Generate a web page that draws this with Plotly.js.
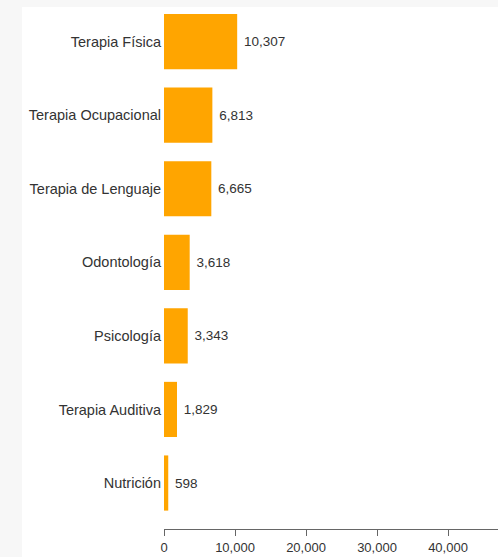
<!DOCTYPE html>
<html>
<head>
<meta charset="utf-8">
<script src="https://cdn.plot.ly/plotly-3.0.1.min.js"></script>
<style>
  html, body { margin: 0; padding: 0; background: #f7f7f7; overflow: hidden; width: 498px; height: 557px; }
  #chart { position: absolute; left: 22px; top: 7px; width: 476px; height: 550px; background: #fff; }
</style>
</head>
<body>
<div id="chart"></div>
<script>
const categories = ["Nutrición", "Terapia Auditiva", "Psicología", "Odontología", "Terapia de Lenguaje", "Terapia Ocupacional", "Terapia Física"];
const values = [598, 1829, 3343, 3618, 6665, 6813, 10307];
const tickValues = [0, 10000, 20000, 30000, 40000];
const tickLabels = ["0", "10,000", "20,000", "30,000", "40,000"];

const trace = {
  type: "bar",
  orientation: "h",
  x: values,
  y: categories,
  marker: { color: "#FFA500" },
  text: values.map(v => "\u00a0" + v.toLocaleString("en-US")),
  textposition: "outside",
  cliponaxis: false,
  textfont: { family: "Liberation Sans, Arial, sans-serif", size: 13.5, color: "#333" },
  hoverinfo: "none"
};

const layout = {
  width: 476,
  height: 550,
  margin: { l: 142, r: 0, t: 0, b: 28 },
  paper_bgcolor: "#ffffff",
  plot_bgcolor: "#ffffff",
  font: { family: "Liberation Sans, Arial, sans-serif", size: 13, color: "#333" },
  bargap: 0.25,
  showlegend: false,
  xaxis: {
    range: [0, 47040],
    tickvals: tickValues,
    ticktext: tickLabels,
    showgrid: false,
    zeroline: false,
    showline: true,
    linecolor: "#666",
    linewidth: 1,
    ticks: "outside",
    ticklen: 6,
    tickcolor: "#666",
    tickfont: { size: 13, color: "#333" },
    fixedrange: true
  },
  yaxis: {
    type: "category",
    categoryorder: "array",
    categoryarray: categories,
    range: [-0.625, 6.47],
    showgrid: false,
    zeroline: false,
    showline: false,
    ticks: "",
    ticklabelstandoff: 2,
    tickfont: { size: 14.5, color: "#333" },
    fixedrange: true
  }
};

Plotly.newPlot("chart", [trace], layout, { displayModeBar: false, staticPlot: true });
</script>
</body>
</html>
